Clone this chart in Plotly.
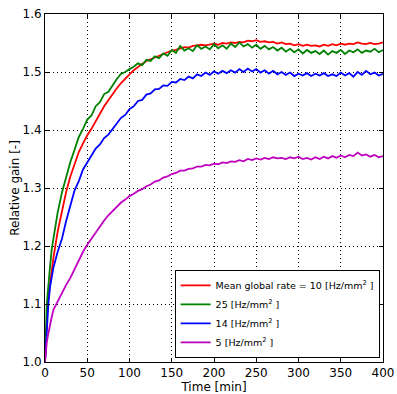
import plotly.graph_objects as go

time_min = [0, 1, 2, 3, 4, 6, 8] + list(range(10, 401, 5))

rate10 = [1.000, 1.045, 1.075, 1.095, 1.110, 1.135, 1.160,
          1.180, 1.225, 1.262, 1.293, 1.320, 1.343, 1.362, 1.377, 1.391, 1.402,
          1.416, 1.428, 1.441, 1.452, 1.463, 1.472, 1.481, 1.489, 1.496, 1.503,
          1.509, 1.514, 1.519, 1.522, 1.526, 1.529, 1.532, 1.534, 1.537, 1.538,
          1.540, 1.543, 1.542, 1.545, 1.546, 1.547, 1.546, 1.548, 1.549, 1.547,
          1.550, 1.549, 1.551, 1.550, 1.552, 1.551, 1.554, 1.553, 1.555, 1.552,
          1.553, 1.551, 1.552, 1.549, 1.551, 1.548, 1.549, 1.546, 1.548, 1.545,
          1.547, 1.545, 1.546, 1.544, 1.547, 1.545, 1.548, 1.546, 1.549, 1.547,
          1.549, 1.548, 1.551, 1.549, 1.548, 1.550, 1.548, 1.549, 1.551]

rate25 = [1.000, 1.060, 1.095, 1.115, 1.135, 1.165, 1.195,
          1.215, 1.258, 1.292, 1.318, 1.345, 1.366, 1.388, 1.402, 1.418, 1.425,
          1.441, 1.448, 1.462, 1.466, 1.478, 1.488, 1.497, 1.500, 1.505, 1.509,
          1.515, 1.512, 1.521, 1.519, 1.527, 1.524, 1.532, 1.528, 1.538, 1.533,
          1.545, 1.537, 1.541, 1.536, 1.546, 1.540, 1.544, 1.539, 1.548, 1.541,
          1.546, 1.540, 1.549, 1.543, 1.551, 1.544, 1.548, 1.542, 1.547, 1.540,
          1.545, 1.539, 1.543, 1.537, 1.542, 1.535, 1.540, 1.534, 1.539, 1.532,
          1.538, 1.533, 1.536, 1.531, 1.537, 1.530, 1.536, 1.533, 1.538, 1.531,
          1.537, 1.534, 1.539, 1.533, 1.537, 1.535, 1.540, 1.534, 1.538]

rate14 = [1.000, 1.030, 1.055, 1.080, 1.100, 1.130, 1.150,
          1.163, 1.190, 1.212, 1.243, 1.268, 1.296, 1.312, 1.332, 1.344, 1.356,
          1.368, 1.375, 1.386, 1.392, 1.402, 1.410, 1.421, 1.426, 1.436, 1.441,
          1.450, 1.452, 1.461, 1.463, 1.470, 1.471, 1.477, 1.476, 1.483, 1.482,
          1.488, 1.486, 1.492, 1.489, 1.496, 1.493, 1.499, 1.495, 1.501, 1.497,
          1.502, 1.498, 1.503, 1.499, 1.505, 1.500, 1.506, 1.501, 1.505, 1.499,
          1.503, 1.497, 1.502, 1.496, 1.500, 1.495, 1.499, 1.493, 1.497, 1.494,
          1.498, 1.493, 1.497, 1.494, 1.498, 1.493, 1.496, 1.493, 1.499, 1.494,
          1.498, 1.492, 1.500, 1.495, 1.502, 1.496, 1.499, 1.494, 1.497]

rate5 = [1.000, 1.020, 1.032, 1.042, 1.050, 1.065, 1.078,
         1.090, 1.105, 1.120, 1.133, 1.145, 1.160, 1.175, 1.190, 1.202, 1.213,
         1.224, 1.235, 1.244, 1.253, 1.260, 1.268, 1.275, 1.280, 1.286, 1.290,
         1.295, 1.298, 1.303, 1.306, 1.311, 1.313, 1.318, 1.320, 1.324, 1.326,
         1.330, 1.330, 1.333, 1.334, 1.337, 1.337, 1.340, 1.339, 1.342, 1.341,
         1.344, 1.343, 1.346, 1.345, 1.348, 1.346, 1.350, 1.348, 1.351, 1.349,
         1.352, 1.350, 1.353, 1.351, 1.352, 1.350, 1.353, 1.351, 1.354, 1.350,
         1.352, 1.349, 1.353, 1.350, 1.354, 1.351, 1.355, 1.352, 1.356, 1.353,
         1.357, 1.355, 1.361, 1.356, 1.358, 1.354, 1.357, 1.353, 1.355]

series_names = ["Mean global rate = 10 [Hz/mm<sup>2</sup> ]", "25 [Hz/mm<sup>2</sup> ]",
                "14 [Hz/mm<sup>2</sup> ]", "5 [Hz/mm<sup>2</sup> ]"]
series_values = [rate10, rate25, rate14, rate5]
series_colors = ["#ff0000", "#008000", "#0000ff", "#bf00bf"]

x_ticks = [0, 50, 100, 150, 200, 250, 300, 350, 400]
y_ticks = [1.0, 1.1, 1.2, 1.3, 1.4, 1.5, 1.6]

fig = go.Figure()
for name, vals, col in zip(series_names, series_values, series_colors):
    assert len(vals) == len(time_min)
    fig.add_trace(go.Scatter(x=time_min, y=vals, mode="lines", name=name,
                             line=dict(color=col, width=1.8)))

axis_common = dict(showline=True, linecolor="black", linewidth=1, mirror="allticks",
                   ticks="inside", ticklen=4, tickcolor="black", automargin=False,
                   showgrid=True, gridcolor="black", gridwidth=1, griddash="1px,3px",
                   zeroline=False, tickfont=dict(family="DejaVu Sans", size=12, color="black"))

fig.update_xaxes(range=[0, 400], tickvals=x_ticks,
                 title=dict(text="Time [min]", font=dict(family="DejaVu Sans", size=12, color="black"), standoff=12),
                 **axis_common)
fig.update_yaxes(range=[1.0, 1.6], tickvals=y_ticks, tickformat=".1f",
                 title=dict(text="Relative gain [-]", font=dict(family="DejaVu Sans", size=12, color="black"), standoff=0),
                 **axis_common)

fig.update_layout(
    width=397, height=394,
    margin=dict(l=45, r=14, t=14, b=32),
    paper_bgcolor="white", plot_bgcolor="white",
    font=dict(family="DejaVu Sans", color="black"),
    legend=dict(x=0.99, y=0.012, xanchor="right", yanchor="bottom",
                bgcolor="white", bordercolor="black", borderwidth=1,
                font=dict(family="DejaVu Sans", size=9.5, color="black"),
                tracegroupgap=0, itemwidth=30),
    showlegend=True,
)

fig.write_html("out.html")
